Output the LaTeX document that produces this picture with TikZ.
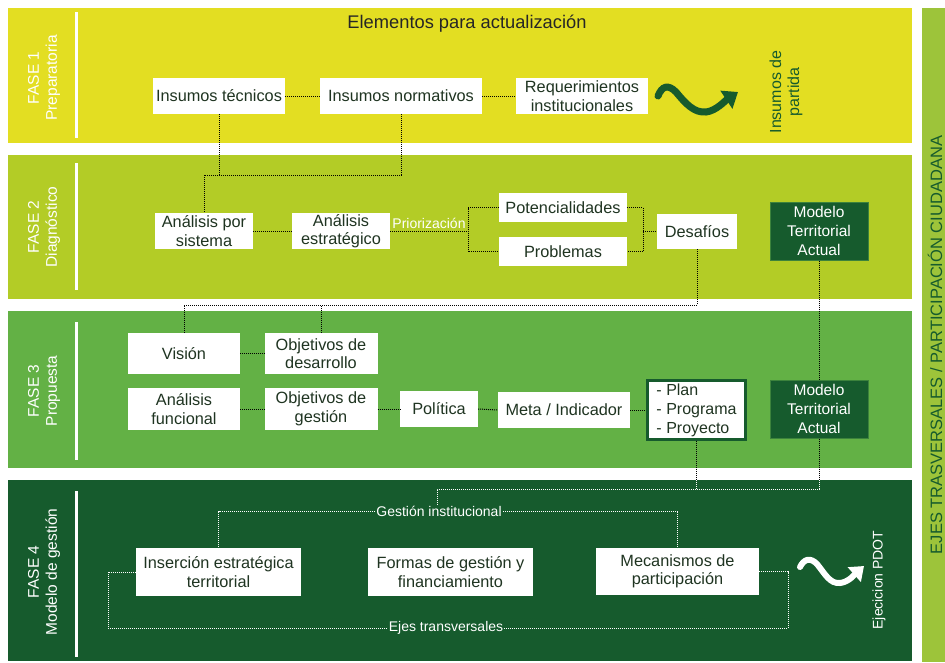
\documentclass[tikz,border=0pt]{standalone}
\usepackage{fontspec}
\setmainfont{Liberation Sans}
\usetikzlibrary{arrows.meta}
\usetikzlibrary{calc}

\definecolor{amarillo}{RGB}{227,222,34}
\definecolor{verdelima}{RGB}{179,204,38}
\definecolor{verdemedio}{RGB}{99,177,69}
\definecolor{verdeosc}{RGB}{22,91,45}
\definecolor{verdeeje}{RGB}{157,196,58}
\definecolor{textocaja}{RGB}{31,52,33}
\definecolor{bordemod}{RGB}{60,130,60}

\tikzset{caja/.style={fill=white, text=textocaja, align=center, inner sep=0pt, font=\fontsize{16.3}{18.5}\selectfont}}
\tikzset{modelo/.style={fill=verdeosc, draw=bordemod, line width=1pt, text=white, align=center, inner sep=0pt, minimum width=98pt, minimum height=58pt, font=\fontsize{15.5}{19}\selectfont}}
\tikzset{enlace/.style={densely dotted, line width=1pt}}
\tikzset{fase/.style={rotate=90, text=white, align=center, font=\fontsize{15.5}{18}\selectfont}}
\tikzset{rotulo/.style={text=white, inner sep=1pt, font=\fontsize{14}{16}\selectfont}}

\begin{document}
\begin{tikzpicture}[x=1pt, y=-1pt]
\useasboundingbox (0,0) rectangle (945,662);
% franjas
\fill[amarillo] (8,8) rectangle (912,143);
\fill[verdelima] (8,155) rectangle (912,299);
\fill[verdemedio] (8,311) rectangle (912,468);
\fill[verdeosc] (8,480) rectangle (912,661);
\fill[verdeeje] (922,8) rectangle (945,662);
\node[rotate=90, text=verdeosc, font=\fontsize{16.5}{20}\selectfont] (ejes) at (935,345) {EJES TRASVERSALES / PARTICIPACIÓN CIUDADANA};
\draw[white, line width=3pt] (76,12) -- (76,138);
\draw[white, line width=3pt] (76,163) -- (76,290);
\draw[white, line width=3pt] (76,322) -- (76,460);
\draw[white, line width=3pt] (76,491) -- (76,657);
\node[fase] (f1) at (44,78) {FASE 1\\Preparatoria};
\node[fase] (f2) at (44,227) {FASE 2\\Diagnóstico};
\node[fase] (f3) at (44,391) {FASE 3\\Propuesta};
\node[fase] (f4) at (44,572) {FASE 4\\Modelo de gestión};

% fase 1
\node[text=black!85, font=\fontsize{18.3}{20}\selectfont] (titulo) at (467,24) {Elementos para actualización};
\node[caja, minimum width=132pt, minimum height=36pt] (tec) at (219,96) {Insumos técnicos};
\node[caja, minimum width=162pt, minimum height=36pt] (norm) at (401,96) {Insumos normativos};
\node[caja, minimum width=132pt, minimum height=36pt] (req) at (582,96) {Requerimientos\\institucionales};
\draw[enlace] (tec.east) -- (norm.west);
\draw[enlace] (norm.east) -- (req.west);
\draw[verdeosc, line width=7pt, line cap=round, -{Triangle[length=14pt,width=21pt]}] (658,96) .. controls (662,86) and (668,84) .. (676,92) .. controls (686,104) and (694,113) .. (706,112) .. controls (716,111) and (726,100) .. (738,92);
\node[rotate=90, text=verdeosc, align=center, font=\fontsize{16}{18}\selectfont] (partida) at (786,92) {Insumos de\\partida};

% fase 2
\coordinate (k1) at (204,175);
\node[caja, minimum width=98pt, minimum height=36pt] (aps) at (204,231) {Análisis por\\sistema};
\node[caja, minimum width=98pt, minimum height=36pt] (aes) at (341,231) {Análisis\\estratégico};
\node[caja, minimum width=128pt, minimum height=29pt] (pot) at (563,207.5) {Potencialidades};
\node[caja, minimum width=128pt, minimum height=29pt] (prob) at (563,251.5) {Problemas};
\node[caja, minimum width=80pt, minimum height=35pt] (des) at (697,231.5) {Desafíos};
\node[modelo] (mta1) at (819,231) {Modelo\\Territorial\\Actual};
\node[rotulo] (prio) at (429,223) {Priorización};
\coordinate (pz) at (468,231);
\coordinate (dz) at (643,231.5);
\draw[enlace] (tec.south) -- (tec.south |- k1);
\draw[enlace] (norm.south) |- (k1) -- (aps.north);
\draw[enlace] (aps.east) -- (aes.west);
\draw[enlace] (aes.east) -- (pz);
\draw[enlace] (pot.west) -| (pz) |- (prob.west);
\draw[enlace] (pot.east) -| (dz) |- (prob.east);
\draw[enlace] (dz) -- (des.west);

% fase 3
\coordinate (k2) at (184,305);
\node[caja, minimum width=112pt, minimum height=41pt] (vis) at (184,353.5) {Visión};
\node[caja, minimum width=113pt, minimum height=41pt] (od) at (321,353.5) {Objetivos de\\desarrollo};
\node[caja, minimum width=112pt, minimum height=42pt] (af) at (184,409) {Análisis\\funcional};
\node[caja, minimum width=113pt, minimum height=42pt] (og) at (321,409) {Objetivos de\\gestión};
\node[caja, minimum width=78pt, minimum height=36pt] (pol) at (439,409) {Política};
\node[caja, minimum width=132pt, minimum height=36pt] (meta) at (564,410) {Meta / Indicador};
\node[caja, draw=verdeosc, line width=3pt, minimum width=98pt, minimum height=59pt, align=left, font=\fontsize{16}{19}\selectfont] (plan) at (696.5,410) {- Plan\\- Programa\\- Proyecto};
\node[modelo] (mta2) at (819,409) {Modelo\\Territorial\\Actual};
\draw[enlace] (des.south) |- (k2) -- (vis.north);
\draw[enlace] (od.north) -- (od.north |- k2);
\draw[enlace] (mta1.south) -- (mta2.north);
\draw[enlace] (vis.east) -- (od.west);
\draw[enlace] (af.east) -- (og.west);
\draw[enlace] (og.east) -- (pol.west);
\draw[enlace] (pol.east) -- (meta.west);
\draw[enlace] (meta.east) -- (plan.west);

% fase 4
\coordinate (b4) at (0,480);
\coordinate (k3) at (437,489);
\node[rotulo] (gi) at (439,511) {Gestión institucional};
\node[caja, minimum width=165pt, minimum height=48pt] (ins) at (218.5,572) {Inserción estratégica\\territorial};
\node[caja, minimum width=165pt, minimum height=48pt] (fg) at (450.5,572) {Formas de gestión y\\financiamiento};
\node[caja, minimum width=163pt, minimum height=47pt] (mec) at (677.5,571.5) {Mecanismos de\\participación};
\node[rotulo] (et) at (446,628) {Ejes transversales};
\coordinate (e1) at (108,628);
\coordinate (e2) at (788,628);
\draw[enlace] (plan.south) -- (plan.south |- b4);
\draw[enlace, white] (plan.south |- b4) -- (plan.south |- k3);
\draw[enlace] (mta2.south) -- (mta2.south |- b4);
\draw[enlace, white] (mta2.south |- b4) |- (k3) -- (k3 |- gi.north);
\draw[enlace, white] (gi.west) -| (ins.north);
\draw[enlace, white] (gi.east) -| (mec.north);
\draw[enlace, white] (ins.west) -| (e1) -- (et.west);
\draw[enlace, white] (et.east) -- (e2) |- (mec.east);
\draw[white, line width=6pt, line cap=round, -{Triangle[length=13pt,width=19pt]}] (800,567) .. controls (804,559) and (810,557) .. (817,564) .. controls (825,574) and (830,584) .. (840,583) .. controls (849,582) and (855,574) .. (864,566);
\node[rotate=90, text=white, font=\fontsize{14}{16}\selectfont] (pdot) at (879,580) {Ejecicion PDOT};
\end{tikzpicture}
\end{document}
